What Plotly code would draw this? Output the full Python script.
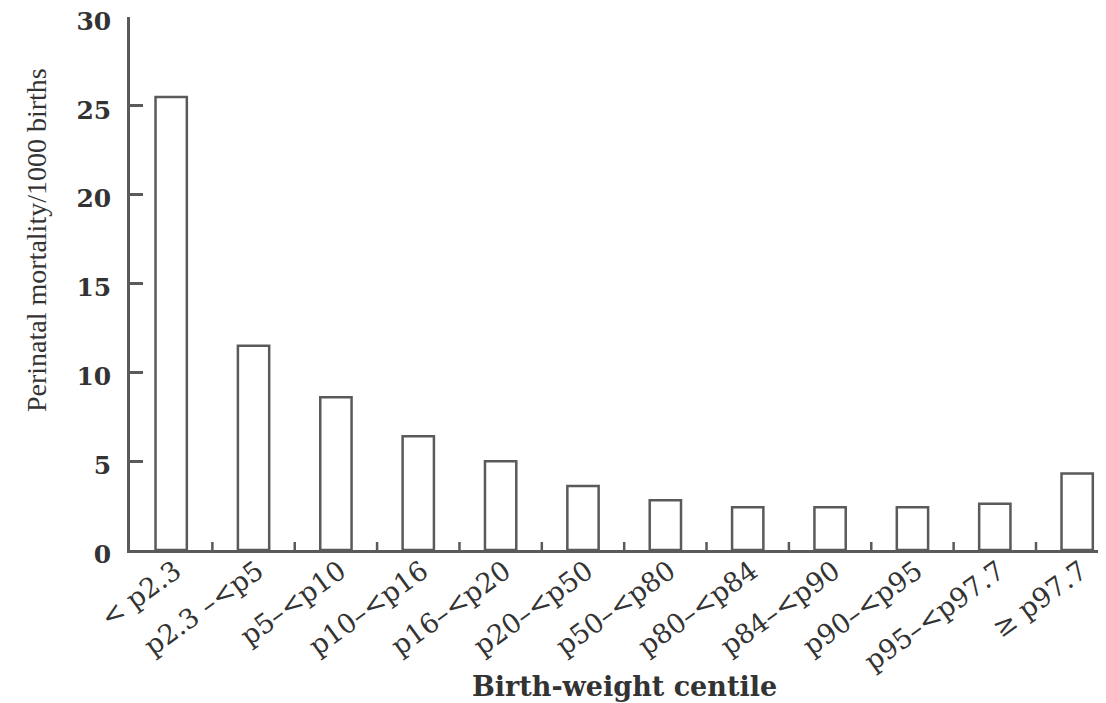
import plotly.graph_objects as go

categories = ["< p2.3", "p2.3 –<p5", "p5–<p10", "p10–<p16", "p16–<p20", "p20–<p50",
              "p50–<p80", "p80–<p84", "p84–<p90", "p90–<p95", "p95–<p97.7", "≥ p97.7"]
mortality = [25.5, 11.5, 8.6, 6.4, 5.0, 3.6, 2.8, 2.4, 2.4, 2.4, 2.6, 4.3]
y_ticks = [0, 5, 10, 15, 20, 25, 30]

line_col = "#5a5a5a"
text_col = "#333333"
serif_wide = "DejaVu Serif, serif"
serif_narrow = "Liberation Serif, serif"

W, H = 1098, 695
L, T, B = 122, 9, 153
plot_w = W - L
plot_h = H - T - B

fig = go.Figure()
fig.add_trace(go.Bar(
    x=list(range(len(categories))),
    y=mortality,
    width=0.38,
    marker=dict(color="white", line=dict(color=line_col, width=2.5)),
    showlegend=False,
))

fig.update_layout(
    width=W, height=H,
    margin=dict(l=L, r=0, t=T, b=B, pad=0),
    paper_bgcolor="white", plot_bgcolor="white",
    font=dict(family=serif_wide, color=text_col),
)

fig.update_xaxes(
    range=[-0.5, 11.35],
    tickmode="array",
    tickvals=list(range(len(categories))),
    ticktext=categories,
    tickangle=-36,
    tickfont=dict(size=27, family=serif_wide, color=text_col),
    ticklabelstandoff=-8,
    ticklabelshift=4,
    showline=True, linecolor=line_col, linewidth=2.5,
    ticks="", showgrid=False, zeroline=False,
    automargin=False,
)

# inside ticks at category boundaries
for i in range(1, len(categories)):
    fig.add_shape(type="line", xref="x", yref="paper",
                  x0=i - 0.5, x1=i - 0.5, y0=0, y1=8 / plot_h,
                  line=dict(color=line_col, width=2.5))

fig.update_yaxes(
    range=[0, 30],
    tickmode="array",
    tickvals=y_ticks,
    ticktext=[f"<b>{v}</b>" for v in y_ticks],
    tickfont=dict(size=25, family=serif_wide, color=text_col),
    ticklabeloverflow="allow",
    ticklabelshift=4,
    showline=True, linecolor=line_col, linewidth=2.5,
    ticks="inside", ticklen=13, tickwidth=2.5, tickcolor=line_col,
    ticklabelstandoff=11,
    showgrid=False, zeroline=False,
    automargin=False,
)

def px_x(px):
    return (px - 8 - L) / plot_w

def px_y(py):
    return (H - B - (py - 8)) / plot_h

fig.add_annotation(
    text="Perinatal mortality/1000 births",
    xref="paper", yref="paper", x=px_x(36), y=px_y(240),
    textangle=-90, showarrow=False, xanchor="center", yanchor="middle",
    font=dict(size=28, family=serif_narrow, color=text_col),
)
fig.add_annotation(
    text="<b>Birth-weight centile</b>",
    xref="paper", yref="paper", x=px_x(624), y=px_y(686),
    showarrow=False, xanchor="center", yanchor="middle",
    font=dict(size=27, family=serif_wide, color=text_col),
)

fig.write_html("out.html")
